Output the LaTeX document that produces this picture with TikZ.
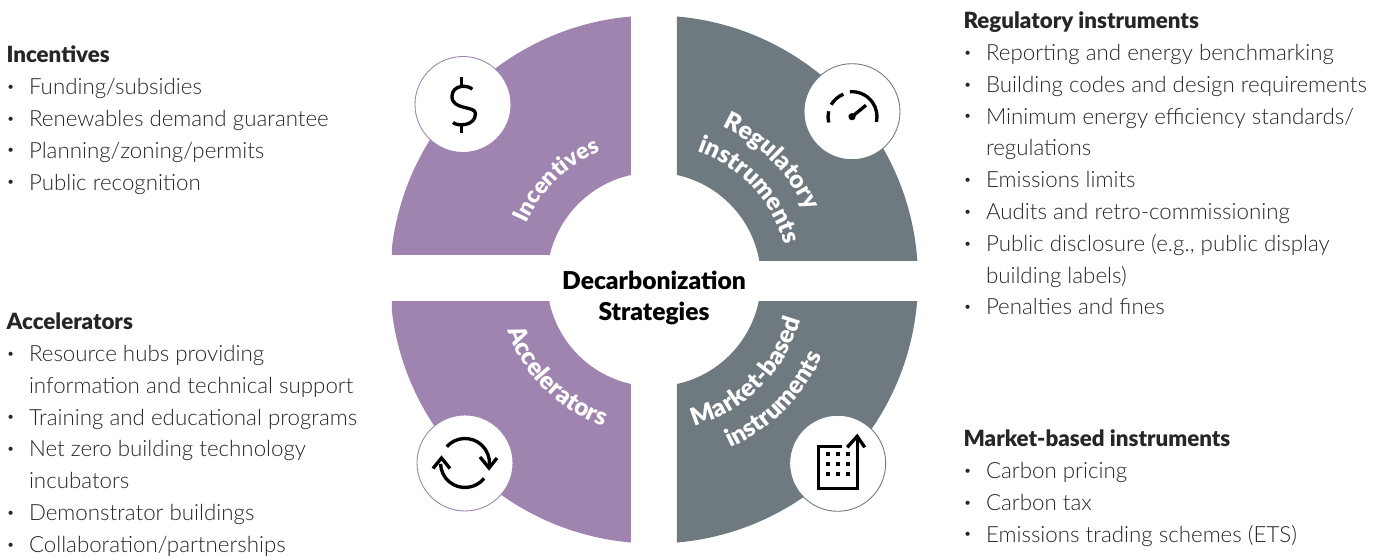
\documentclass[tikz,border=0pt]{standalone}
\usepackage{fontspec}
\setmainfont{Lato Light}[BoldFont=Lato Black]
\newfontfamily\blackfont{Lato Black}
\usepackage{tikz}
\usetikzlibrary{decorations.text}
\usetikzlibrary{positioning}
\definecolor{incpurple}{HTML}{9E84AE}
\definecolor{reggrey}{HTML}{6F7A80}
\newcommand{\itm}{\makebox[12.8pt][l]{\raisebox{.3ex}{\fontsize{8}{8}\selectfont\textbullet}}}
\newcommand{\cnt}{\hspace*{12.8pt}}
\newcommand{\ringfont}{\bfseries\fontsize{14}{15}\selectfont\color{white}}

\begin{document}
\begin{tikzpicture}[x=.02cm,y=.02cm,semithick]
	\tikzstyle{listing}=[inner sep=0pt, anchor=north west, align=left, text=black!85, font=\fontsize{12.7}{18.1}\selectfont]
	\tikzstyle{badge}=[draw, circle, fill=white, inner sep=0pt, minimum size=1.92cm, line width=.5pt]
	\tikzstyle{icon}=[line width=1.9pt, black]
	\tikzstyle{bend}=[decorate, decoration={text along path, text align=center, text={#1}}]
	\path[use as bounding box] (-654,-277.5) rectangle (732,279.5);
	% the four quadrants
	\foreach \xa/\ya/\xb/\yb/\col in {-262/24.5/-23/264/incpurple, 23/18.5/264/264/reggrey, -262/-264/-23/-22.5/incpurple, 23/-264/264/-22.5/reggrey}{
		\begin{scope}
			\clip (\xa,\ya) rectangle (\xb,\yb);
			\fill[\col, even odd rule] (0,0) circle (264) (0,0) circle (107);
		\end{scope}
	}
	\node[font=\blackfont\fontsize{14}{17.6}\selectfont, align=center] (title) at (0,-18) {Decarbonization\\Strategies};
	% labels on the ring
	\path[bend={|\ringfont\fontsize{13}{15}\selectfont|Incentives}] (158:139) arc (158:111:139);
	\path[bend={|\ringfont|Regulatory}] (68:167) arc (68:22:167);
	\path[bend={|\ringfont|instruments}] (72:135) arc (72:14:135);
	\path[bend={|\ringfont|Accelerators}] (196:155) arc (196:254:155);
	\path[bend={|\ringfont|Market-based}] (-76:152) arc (-76:-14:152);
	\path[bend={|\ringfont|instruments}] (-69:185) arc (-69:-21:185);
	% badges
	\node[badge, draw=incpurple] (dollar) at (-191,175) {};
	\node[badge, draw=reggrey] (gauge) at (198,167.8) {};
	\node[badge, draw=incpurple] (cycle) at (-189,-183.5) {};
	\node[badge, draw=reggrey] (tower) at (183.7,-183.8) {};
	% icons
	\begin{scope}[shift={(dollar)}, icon]
		\draw (9.3,15.2) .. controls (5,20) and (-11,20) .. (-11,8) .. controls (-11,-6) and (12.5,-1) .. (12.5,-9) .. controls (12.5,-22) and (-6,-22) .. (-10,-18);
		\draw (-1.3,27.2) -- (-1.3,18.5);
		\draw (-1.3,-21) -- (-1.3,-28.2);
	\end{scope}
	\begin{scope}[shift={(gauge)}, icon]
		\fill (0,-5) circle (3.6);
		\draw (0,-5) -- (14,6.5);
		\draw (95:25) ++(0,-5) arc (95:-12:25);
		\draw (150:24) ++(0,-5) arc (150:111:24);
		\draw (194:24) ++(0,-5) arc (194:167:24);
	\end{scope}
	\begin{scope}[shift={(cycle)}, icon]
		\draw (138:24.5) arc (138:-5:24.5);
		\draw (-39:24.5) arc (-39:-178:24.5);
		\draw (15,6) -- (24,-5) -- (32,5);
		\draw (-32,-5.5) -- (-23.5,5) -- (-15,-5.5);
	\end{scope}
	\begin{scope}[shift={(tower)}, icon]
		\draw (4.5,17) -- (-19.5,17) -- (-19.5,-25.5) -- (19.5,-25.5) -- (19.5,25);
		\draw (9.5,16) -- (19.5,27) -- (27,16);
		\foreach \dx in {-10,0,10}{
			\foreach \dy in {9,-1,-11}{
				\fill (\dx-1.9,\dy-1.9) rectangle (\dx+1.9,\dy+1.9);
			}
		}
	\end{scope}
	% lists
	\node[listing] (inc) at (-648,234) {\textbf{Incentives}\\\itm Funding/subsidies\\\itm Renewables demand guarantee\\\itm Planning/zoning/permits\\\itm Public recognition};
	\node[listing] (acc) at (-648,-33) {\textbf{Accelerators}\\\itm Resource hubs providing\\\cnt information and technical support\\\itm Training and educational programs\\\itm Net zero building technology\\\cnt incubators\\\itm Demonstrator buildings\\\itm Collaboration/partnerships};
	\node[listing] (reg) at (309,268) {\textbf{Regulatory instruments}\\\itm Reporting and energy benchmarking\\\itm Building codes and design requirements\\\itm Minimum energy efficiency standards/\\\cnt regulations\\\itm Emissions limits\\\itm Audits and retro-commissioning\\\itm Public disclosure (e.g., public display\\\cnt building labels)\\\itm Penalties and fines};
	\node[listing] (mkt) at (309,-150) {\textbf{Market-based instruments}\\\itm Carbon pricing\\\itm Carbon tax\\\itm Emissions trading schemes (ETS)};
\end{tikzpicture}
\end{document}
